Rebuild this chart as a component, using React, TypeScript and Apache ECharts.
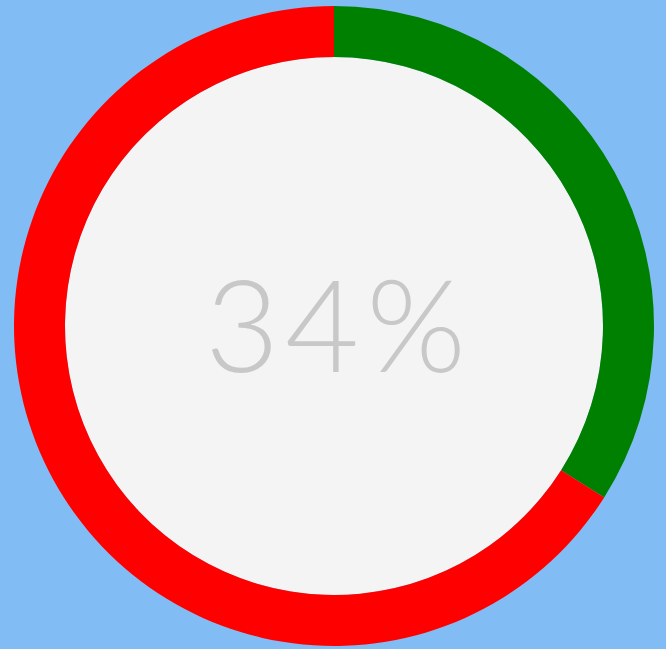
import React, { useEffect, useRef } from "react";
import * as echarts from "echarts";

const categories = ["Done", "Remaining"];
const values = [34, 66];
const colors = ["#008000", "#ff0000"];
const centerLabel = "34%";

export default function App() {
  const ref = useRef<HTMLDivElement>(null);
  useEffect(() => {
    const chart = echarts.init(ref.current!, undefined, { renderer: "svg" });
    chart.setOption({
      animation: false,
      backgroundColor: "#82bcf4",
      series: [
        {
          type: "pie",
          silent: true,
          center: [334, 326],
          radius: [0, 269],
          label: {
            show: true,
            position: "center",
            formatter: "{a|3}{a|4}{b|%}",
            rich: {
              a: {
                fontFamily: "Lato, 'Open Sans', sans-serif",
                fontWeight: 300,
                fontSize: 128,
                color: "#c8c8c8",
                padding: [0, 3, 8, 3],
              },
              b: {
                fontFamily: "Lato, 'Open Sans', sans-serif",
                fontWeight: 300,
                fontSize: 128,
                color: "#c8c8c8",
                padding: [0, 0, 8, 4],
              },
            },
          },
          labelLine: { show: false },
          data: [{ name: "center", value: 1, itemStyle: { color: "#f4f4f4" } }],
        },
        {
          type: "pie",
          silent: true,
          center: [334, 326],
          radius: [269, 320],
          startAngle: 90,
          clockwise: true,
          label: { show: false },
          labelLine: { show: false },
          itemStyle: { borderWidth: 0 },
          data: categories.map((c, i) => ({
            name: c,
            value: values[i],
            itemStyle: { color: colors[i] },
          })),
        },
      ],
    });
    return () => chart.dispose();
  }, []);
  return (
    <div
      ref={ref}
      style={{ position: "fixed", left: 0, top: 0, width: 666, height: 649 }}
    />
  );
}
